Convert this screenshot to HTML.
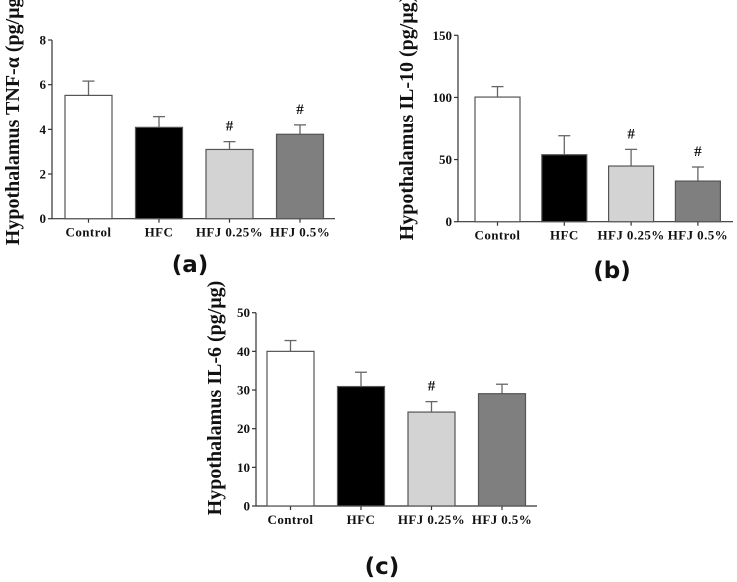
<!DOCTYPE html>
<html><head><meta charset="utf-8"><style>
html,body{margin:0;padding:0;background:#fff;width:737px;height:582px;overflow:hidden}
svg{display:block}
text{font-family:"Liberation Serif",serif;font-weight:bold;fill:#111}
.lbl{font-family:"DejaVu Sans",sans-serif;font-size:23px}
</style></head><body>
<svg id="fig" width="737" height="582"></svg>
<script>
const categories = ["Control","HFC","HFJ 0.25%","HFJ 0.5%"];
const fills = ["#ffffff","#000000","#d3d3d3","#7f7f7f"];
const tnfValues = [5.52, 4.09, 3.1, 3.78];
const tnfErrors = [0.64, 0.48, 0.35, 0.42];
const tnfHash = [false, false, true, true];
const tnfTicks = [0,2,4,6,8];
const il10Values = [100.3, 53.9, 44.8, 32.7];
const il10Errors = [8.4, 15.3, 13.4, 11.3];
const il10Hash = [false, false, true, true];
const il10Ticks = [0,50,100,150];
const il6Values = [40.0, 30.9, 24.3, 29.05];
const il6Errors = [2.8, 3.7, 2.7, 2.45];
const il6Hash = [false, false, true, false];
const il6Ticks = [0,10,20,30,40,50];

const NS="http://www.w3.org/2000/svg";
const svg=document.getElementById('fig');
function mk(tag,attrs,parent){const e=document.createElementNS(NS,tag);for(const k in attrs)e.setAttribute(k,attrs[k]);(parent||svg).appendChild(e);return e;}

function chart(cfg){
  const g=mk('g',{});
  
  
  const ymax=cfg.ticks[cfg.ticks.length-1];
  const y=v=>cfg.y0-(v/ymax)*(cfg.y0-cfg.yTop);
  const x=i=>cfg.x1+i*cfg.step;
  const ya=mk('line',{x1:cfg.ax,y1:cfg.yTop,x2:cfg.ax,y2:cfg.y0,stroke:'#333','stroke-width':1.2},g);
  
  
  const xa=mk('line',{x1:cfg.ax,y1:cfg.y0,x2:cfg.axEnd,y2:cfg.y0,stroke:'#333','stroke-width':1.2},g);
  
  
  cfg.ticks.forEach(t=>{
    mk('line',{x1:cfg.ax-4,y1:y(t),x2:cfg.ax,y2:y(t),stroke:'#333','stroke-width':1.2},g);
    const tl=mk('text',{x:cfg.ax-6,y:y(t)+4.5,'text-anchor':'end','font-size':13},g);
    tl.textContent=t;
    
    
  });
  categories.forEach((c,i)=>{
    const cx=x(i)+cfg.bw/2;
    mk('line',{x1:cx,y1:cfg.y0,x2:cx,y2:cfg.y0+4,stroke:'#333','stroke-width':1.2},g);
    const v=cfg.values[i],e=cfg.errors[i];
    const el=mk('line',{x1:cx,y1:y(v),x2:cx,y2:y(v+e),stroke:'#666','stroke-width':1.3},g);
    
    
    mk('line',{x1:cx-6,y1:y(v+e),x2:cx+6,y2:y(v+e),stroke:'#666','stroke-width':1.3},g);
    const r=mk('rect',{x:x(i),y:y(v),width:cfg.bw,height:cfg.y0-y(v),fill:fills[i],stroke:'#555','stroke-width':1.2},g);
    
    
    const cl=mk('text',{x:cx,y:cfg.y0+18,'text-anchor':'middle','font-size':13,'letter-spacing':0.4},g);
    cl.textContent=c;
    
    
    if(cfg.hash[i]){
      const h=mk('text',{x:cx,y:y(v+e)-11,'text-anchor':'middle','font-size':15,'font-weight':'normal'},g);
      h.textContent='#';
      
      
    }
  });
  const tt=mk('text',{x:cfg.titleX,y:cfg.titleY,'text-anchor':'middle','font-size':20,transform:`rotate(-90 ${cfg.titleX} ${cfg.titleY})`},g);
  tt.textContent=cfg.title;
  
  
  const pl=mk('text',{x:cfg.lblX,y:cfg.lblY,'text-anchor':'middle',class:'lbl'},g);
  pl.textContent=cfg.label;
  
  
}

chart({name:'chart-tnf-alpha',values:tnfValues,errors:tnfErrors,hash:tnfHash,ticks:tnfTicks,
  ax:52,axEnd:335,yTop:40,y0:218.7,x1:65,step:70.5,bw:47,
  title:'Hypothalamus TNF-α (pg/μg)',titleX:19,titleY:118,label:'(a)',lblX:190,lblY:272});
chart({name:'chart-il-10',values:il10Values,errors:il10Errors,hash:il10Hash,ticks:il10Ticks,
  ax:458,axEnd:733,yTop:35.3,y0:221.7,x1:475,step:66.8,bw:45,
  title:'Hypothalamus IL-10 (pg/μg)',titleX:413,titleY:118,label:'(b)',lblX:612,lblY:278});
chart({name:'chart-il-6',values:il6Values,errors:il6Errors,hash:il6Hash,ticks:il6Ticks,
  ax:256,axEnd:537,yTop:312.7,y0:506,x1:267,step:70.5,bw:47,
  title:'Hypothalamus IL-6 (pg/μg)',titleX:221,titleY:398,label:'(c)',lblX:382,lblY:574});
</script>
</body></html>
